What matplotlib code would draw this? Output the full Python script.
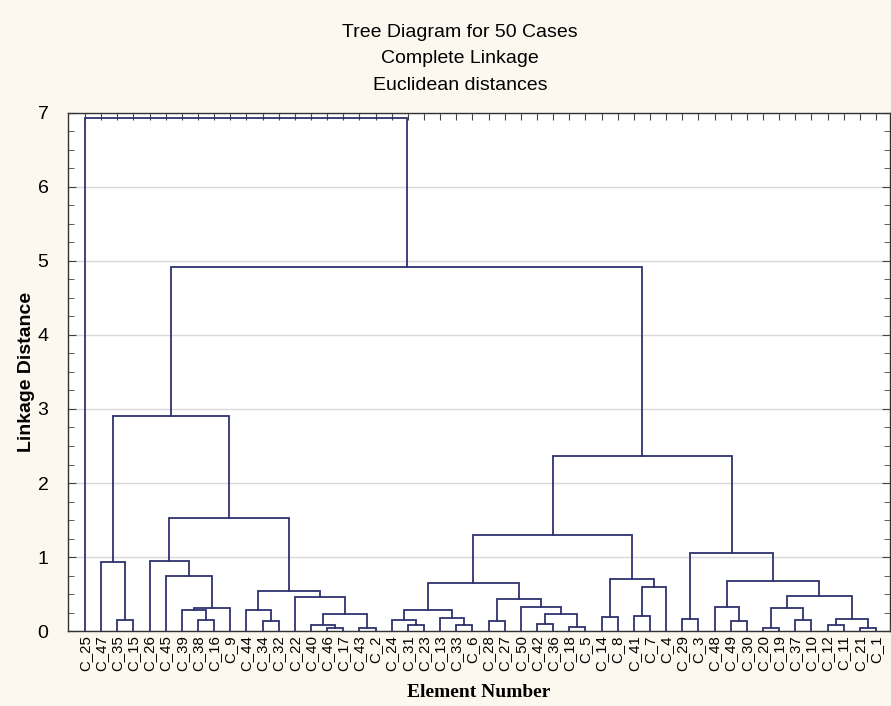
import matplotlib
matplotlib.use('Agg')
import matplotlib.pyplot as plt
from matplotlib.ticker import MultipleLocator

# leaf order along the x axis
leaves = ['C_25', 'C_47', 'C_35', 'C_15', 'C_26', 'C_45', 'C_39', 'C_38', 'C_16', 'C_9',
          'C_44', 'C_34', 'C_32', 'C_22', 'C_40', 'C_46', 'C_17', 'C_43', 'C_2', 'C_24',
          'C_31', 'C_23', 'C_13', 'C_33', 'C_6', 'C_28', 'C_27', 'C_50', 'C_42', 'C_36',
          'C_18', 'C_5', 'C_14', 'C_8', 'C_41', 'C_7', 'C_4', 'C_29', 'C_3', 'C_48',
          'C_49', 'C_30', 'C_20', 'C_19', 'C_37', 'C_10', 'C_12', 'C_11', 'C_21', 'C_1']

# merges: (left, right, linkage distance); ints point to an earlier merge
merges = [
    ('C_35', 'C_15', 0.15),   # 0
    ('C_47', 0, 0.93),        # 1
    ('C_38', 'C_16', 0.15),   # 2
    ('C_39', 2, 0.28),        # 3
    (3, 'C_9', 0.31),         # 4
    ('C_45', 4, 0.75),        # 5
    ('C_26', 5, 0.95),        # 6
    ('C_34', 'C_32', 0.135),  # 7
    ('C_44', 7, 0.28),        # 8
    ('C_46', 'C_17', 0.04),   # 9
    ('C_40', 9, 0.085),       # 10
    ('C_43', 'C_2', 0.04),    # 11
    (10, 11, 0.235),          # 12
    ('C_22', 12, 0.46),       # 13
    (8, 13, 0.545),           # 14
    (6, 14, 1.53),            # 15
    (1, 15, 2.91),            # 16
    ('C_31', 'C_23', 0.085),  # 17
    ('C_24', 17, 0.15),       # 18
    ('C_33', 'C_6', 0.085),   # 19
    ('C_13', 19, 0.18),       # 20
    (18, 20, 0.29),           # 21
    ('C_28', 'C_27', 0.14),   # 22
    ('C_42', 'C_36', 0.095),  # 23
    ('C_18', 'C_5', 0.055),   # 24
    (23, 24, 0.235),          # 25
    ('C_50', 25, 0.32),       # 26
    (22, 26, 0.43),           # 27
    (21, 27, 0.65),           # 28
    ('C_14', 'C_8', 0.185),   # 29
    ('C_41', 'C_7', 0.20),    # 30
    (30, 'C_4', 0.59),        # 31
    (29, 31, 0.70),           # 32
    (28, 32, 1.30),           # 33
    ('C_29', 'C_3', 0.165),   # 34
    ('C_49', 'C_30', 0.14),   # 35
    ('C_48', 35, 0.325),      # 36
    ('C_20', 'C_19', 0.04),   # 37
    ('C_37', 'C_10', 0.15),   # 38
    (37, 38, 0.31),           # 39
    ('C_12', 'C_11', 0.085),  # 40
    ('C_21', 'C_1', 0.04),    # 41
    (40, 41, 0.165),          # 42
    (39, 42, 0.47),           # 43
    (36, 43, 0.67),           # 44
    (34, 44, 1.06),           # 45
    (33, 45, 2.36),           # 46
    (16, 46, 4.92),           # 47
    ('C_25', 47, 6.93),       # 48
]

title_lines = ['Tree Diagram for 50 Cases', 'Complete Linkage', 'Euclidean distances']

line_col = '#2f3270'
bg = '#fcf8ef'

fig = plt.figure(figsize=(8.91, 7.06), dpi=100, facecolor=bg)
ax = fig.add_axes([0.0763, 0.1062, 0.9226, 0.7338])
ax.set_facecolor('white')

# x of each leaf / cluster, height of each node
xpos = {name: i + 1 for i, name in enumerate(leaves)}
ypos = {name: 0.0 for name in leaves}

def node_key(n):
    return ('m', n) if isinstance(n, int) else n

for k, (a, b, h) in enumerate(merges):
    ka, kb = node_key(a), node_key(b)
    xa, xb = xpos[ka], xpos[kb]
    ax.plot([xa, xa, xb, xb], [ypos[ka], h, h, ypos[kb]], color=line_col, lw=1.3,
            solid_joinstyle='miter', zorder=3)
    xpos[('m', k)] = (xa + xb) / 2
    ypos[('m', k)] = h

ax.set_xlim(-0.05, 50.87)
ax.set_ylim(0, 7)
ax.set_xticks(range(1, len(leaves) + 1))
ax.set_xticklabels(leaves, rotation=90, fontsize=10.8, family='Liberation Sans')
ax.yaxis.set_major_locator(MultipleLocator(1))
ax.yaxis.set_minor_locator(MultipleLocator(0.25))
for lab in ax.get_yticklabels():
    lab.set_family('Liberation Sans')
    lab.set_fontsize(14)

ax.grid(axis='y', color='#d9d9d9', lw=1, zorder=0)
ax.tick_params(axis='x', bottom=False, top=True, direction='in', length=5,
               color='#444444', pad=3)
ax.tick_params(axis='y', which='both', left=True, right=True, direction='in',
               color='#444444')
ax.tick_params(axis='y', which='major', length=6, pad=14)
ax.tick_params(axis='y', which='minor', length=4)
for s in ax.spines.values():
    s.set_color('#333333')
    s.set_linewidth(1)

ax.set_xlabel('Element Number', fontsize=14, fontweight='bold',
              family='Liberation Serif', labelpad=9)
ax.set_ylabel('Linkage Distance', fontsize=14, fontweight='bold',
              family='Liberation Sans', labelpad=2)

for i, t in enumerate(title_lines):
    fig.text(0.516, 0.954 - i * 0.0375, t, ha='center', va='center',
             fontsize=14, family='Liberation Sans')

plt.savefig('out.png', dpi=100, facecolor=bg)
